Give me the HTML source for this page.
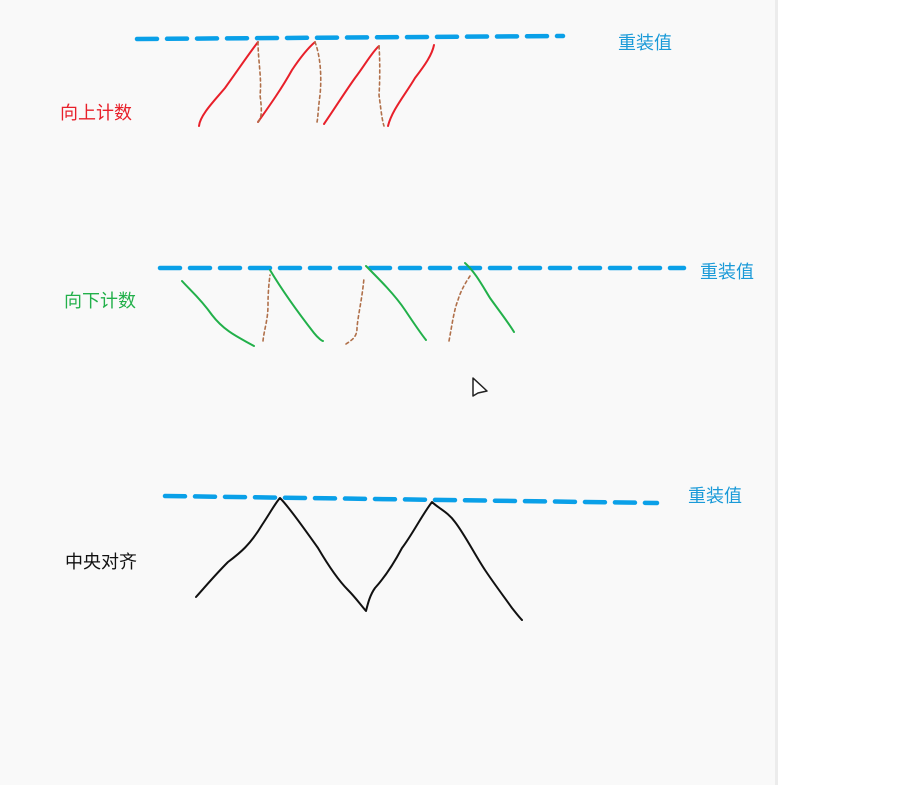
<!DOCTYPE html>
<html><head><meta charset="utf-8"><style>
html,body{margin:0;padding:0;background:#fff;}
#wrap{position:relative;width:923px;height:785px;overflow:hidden;}
#panel{position:absolute;left:0;top:0;width:775px;height:785px;background:#f9f9f9;border-right:3px solid #ececec;}
svg{position:absolute;left:0;top:0;}
text{font-family:"Liberation Sans","Noto Sans CJK SC",sans-serif;font-size:18px;}
</style></head><body>
<div id="wrap">
<div id="panel"></div>
<svg width="923" height="785">
<g fill="none" stroke-linecap="round" stroke-linejoin="round">
<!-- reload lines -->
<polyline points="137,39 563,36" stroke="#0aa0e8" stroke-width="4.5" stroke-dasharray="20,10"/>
<polyline points="160,268 684,268" stroke="#0aa0e8" stroke-width="4.5" stroke-dasharray="20,10"/>
<polyline points="165,496 657,503" stroke="#0aa0e8" stroke-width="4.5" stroke-dasharray="20,10"/>
<!-- up count red -->
<g stroke="#e8202a" stroke-width="2">
<path d="M199,126 C200,115 215,100 225,88 C238,70 248,55 258,42"/>
<path d="M258,122 C270,105 282,88 292,70 C300,58 308,48 315,42"/>
<path d="M324,124 C335,108 345,92 355,78 C365,65 372,52 379,46"/>
<path d="M388,126 C392,110 405,95 415,78 C425,65 432,55 434,45"/>
</g>
<g stroke="#b0704a" stroke-width="1.6" stroke-dasharray="3,3">
<path d="M258,42 C258,60 262,80 260,95 C262,110 262,118 258,122"/>
<path d="M315,42 C320,55 322,75 320,95 C318,110 318,118 317,122"/>
<path d="M379,46 C380,60 380,80 379,95 C381,110 382,120 384,126"/>
</g>
<!-- down count green -->
<g stroke="#22b04a" stroke-width="2">
<path d="M182,281 C190,290 200,298 212,315 C225,332 240,338 254,346"/>
<path d="M270,270 C282,290 300,315 314,333 C318,338 322,341 323,341"/>
<path d="M366,266 C380,280 395,295 405,310 C415,325 422,335 426,340"/>
<path d="M465,263 C475,272 482,285 490,298 C500,312 508,322 514,332"/>
</g>
<g stroke="#b0704a" stroke-width="1.6" stroke-dasharray="3,3">
<path d="M263,341 C264,330 268,320 268,305 C268,292 269,283 270,275"/>
<path d="M346,344 C352,340 357,337 357,328 C358,315 362,300 364,278"/>
<path d="M449,341 C452,325 454,310 458,300 C461,290 466,282 470,276"/>
</g>
<!-- center aligned black -->
<path stroke="#111" stroke-width="2"
 d="M196,597 C205,587 215,575 228,562 C240,553 250,545 262,525 C270,513 276,502 280,498 C290,508 305,530 318,548 C328,565 338,580 348,590 C355,597 360,604 366,611 C368,603 370,595 375,588 C385,577 393,565 402,548 C412,535 422,515 432,502 C438,508 448,512 455,522 C465,535 475,555 485,570 C495,585 505,598 512,608 C516,613 519,617 522,620"/>
<!-- cursor -->
<path d="M473,378 L473,396 L478,393 L487,391 Z" stroke="#222" stroke-width="1.5" fill="#fff"/>
</g>
<text x="618" y="49" fill="#1a9ad8">重装值</text>
<text x="700" y="278" fill="#1a9ad8">重装值</text>
<text x="688" y="502" fill="#1a9ad8">重装值</text>
<text x="60" y="119" fill="#e8202a">向上计数</text>
<text x="64" y="307" fill="#22b04a">向下计数</text>
<text x="65" y="568" fill="#111">中央对齐</text>
</svg>
</div>
</body></html>
